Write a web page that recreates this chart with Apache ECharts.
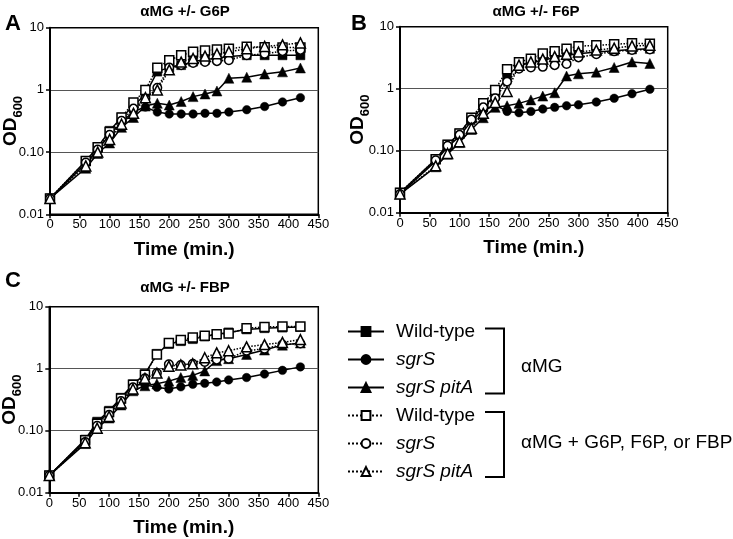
<!DOCTYPE html>
<html><head><meta charset="utf-8">
<script src="https://cdn.jsdelivr.net/npm/echarts@6/dist/echarts.min.js"></script>
<style>html,body{margin:0;padding:0;background:#fff}#c{width:733px;height:539px}</style>
</head><body><div id="c"></div>
<script>
const times = [0,60,80,100,120,140,160,180,200,220,240,260,280,300,330,360,390,420];
const yTicks = ['0.01','0.10','1','10'];
const xTicks = [0,50,100,150,200,250,300,350,400,450];
const panelTitles = ['αMG +/- G6P','αMG +/- F6P','αMG +/- FBP'];
const panelLetters = ['A','B','C'];
const legendLabels = ['Wild-type','sgrS','sgrS pitA','Wild-type','sgrS','sgrS pitA'];
const groupLabels = ['αMG','αMG + G6P, F6P, or FBP'];

// Panel A (G6P)
const A_wt     = [0.018,0.072,0.12,0.22,0.36,0.55,0.85,1.97,2.3,2.5,2.85,3.05,3.25,3.45,3.6,3.6,3.6,3.6];
const A_sgrS   = [0.018,0.065,0.11,0.19,0.30,0.45,0.53,0.44,0.41,0.41,0.41,0.42,0.42,0.44,0.48,0.54,0.64,0.75];
const A_pitA   = [0.018,0.055,0.095,0.14,0.25,0.36,0.55,0.61,0.57,0.65,0.78,0.86,0.96,1.54,1.6,1.8,1.95,2.25];
const A_wtS    = [0.018,0.072,0.12,0.21,0.36,0.63,1.0,2.28,3.0,3.6,4.1,4.3,4.45,4.6,4.95,4.85,4.8,4.8];
const A_sgrSS  = [0.018,0.068,0.11,0.19,0.32,0.50,0.72,1.08,2.3,2.5,2.7,2.8,2.9,3.0,3.6,3.8,4.2,4.4];
const A_pitAS  = [0.018,0.06,0.10,0.16,0.28,0.42,0.75,1.0,2.1,2.8,3.2,3.5,3.8,4.1,4.6,5.0,5.3,5.7];
// Panel B (F6P)
const B_wt     = [0.021,0.073,0.125,0.19,0.34,0.50,0.78,1.6,2.37,2.62,2.86,3.2,3.45,3.65,3.9,4.1,4.3,4.4];
const B_sgrS   = [0.020,0.068,0.115,0.17,0.30,0.45,0.55,0.43,0.41,0.43,0.47,0.50,0.53,0.55,0.61,0.70,0.83,0.98];
const B_pitA   = [0.020,0.055,0.088,0.135,0.22,0.34,0.50,0.53,0.58,0.66,0.76,0.86,1.6,1.74,1.85,2.2,2.7,2.55];
const B_wtS    = [0.021,0.073,0.125,0.19,0.34,0.58,0.95,2.05,2.68,3.05,3.7,4.0,4.4,4.85,5.0,5.2,5.4,5.3];
const B_sgrSS  = [0.020,0.07,0.12,0.18,0.32,0.50,0.70,1.3,2.1,2.2,2.25,2.4,2.5,3.2,3.6,4.0,4.2,4.3];
const B_pitAS  = [0.020,0.057,0.09,0.14,0.23,0.40,0.60,0.9,2.4,2.7,3.0,3.3,3.6,3.9,4.2,4.5,4.9,5.0];
// Panel C (FBP)
const C_wt     = [0.019,0.072,0.14,0.21,0.34,0.56,0.82,1.74,2.5,2.78,3.0,3.3,3.6,3.85,4.3,4.5,4.6,4.7];
const C_sgrS   = [0.019,0.068,0.13,0.20,0.32,0.55,0.55,0.50,0.47,0.51,0.56,0.58,0.61,0.66,0.72,0.82,0.94,1.07];
const C_pitA   = [0.019,0.062,0.11,0.16,0.26,0.44,0.53,0.57,0.63,0.72,0.78,0.92,1.35,1.45,1.7,2.0,2.4,2.6];
const C_wtS    = [0.019,0.07,0.13,0.20,0.33,0.55,0.80,1.7,2.6,2.9,3.2,3.4,3.6,3.7,4.5,4.7,4.8,4.8];
const C_sgrSS  = [0.019,0.066,0.12,0.18,0.30,0.50,0.70,0.85,1.18,1.15,1.2,1.28,1.4,1.45,1.95,2.1,2.45,2.55];
const C_pitAS  = [0.019,0.064,0.11,0.17,0.28,0.47,0.70,0.85,1.1,1.15,1.2,1.5,1.8,1.95,2.25,2.45,2.65,2.95];

const FONT = "'Liberation Sans', Arial, sans-serif";
const panels = [
  {data:[A_wt,A_sgrS,A_pitA,A_wtS,A_sgrSS,A_pitAS], grid:{left:50, top:27.7, width:268.3, height:186.6}},
  {data:[B_wt,B_sgrS,B_pitA,B_wtS,B_sgrSS,B_pitAS], grid:{left:400, top:26.7, width:267.7, height:186}},
  {data:[C_wt,C_sgrS,C_pitA,C_wtS,C_sgrSS,C_pitAS], grid:{left:49.3, top:306.7, width:269, height:186}}
];
const nameGapsY = [25, 28, 25];
const seriesNames = ['WT','sgrS','sgrS pitA','WT +','sgrS +','sgrS pitA +'];
const symbols = ['rect','circle','triangle','rect','circle','triangle'];
const symSizes = [9,8.5,10,9,8.5,10];
const legendMap = {
  'WT':'{n|Wild-type}','sgrS':'{i|sgrS}','sgrS pitA':'{i|sgrS pitA}',
  'WT +':'{n|Wild-type}','sgrS +':'{i|sgrS}','sgrS pitA +':'{i|sgrS pitA}'
};

const grids=[], xAxes=[], yAxes=[], series=[];
panels.forEach((p,pi)=>{
  grids.push(Object.assign({show:true, borderColor:'#000', borderWidth:1.5, backgroundColor:'transparent',
    containLabel:false, outerBoundsMode:'none'}, p.grid));
  xAxes.push({type:'value', gridIndex:pi, min:0, max:450, interval:50,
    name:'Time (min.)', nameLocation:'middle', nameGap:26, nameMoveOverlap:false,
    nameTextStyle:{fontFamily:FONT, fontSize:19, fontWeight:'bold', color:'#000'},
    axisLine:{lineStyle:{color:'#000', width:2}},
    axisTick:{show:true, length:4, lineStyle:{color:'#000', width:1.5}},
    axisLabel:{fontFamily:FONT, fontSize:13, color:'#000', margin:4,
      formatter:v=> xTicks.indexOf(v)>=0 ? String(v) : ''},
    splitLine:{show:false}});
  yAxes.push({type:'log', logBase:10, gridIndex:pi, min:0.01, max:10,
    name:'{a|OD}{b|600}', nameLocation:'middle', nameGap:nameGapsY[pi], nameRotate:90, nameMoveOverlap:false,
    nameTextStyle:{rich:{
      a:{fontFamily:FONT, fontSize:19, fontWeight:'bold', color:'#000', lineHeight:24, verticalAlign:'top'},
      b:{fontFamily:FONT, fontSize:13, fontWeight:'bold', color:'#000', lineHeight:24, verticalAlign:'bottom'}}},
    axisLine:{lineStyle:{color:'#000', width:2}},
    axisTick:{show:true, length:4, lineStyle:{color:'#000', width:1.5}},
    axisLabel:{fontFamily:FONT, fontSize:13, color:'#000', margin:6,
      formatter:v=>{const k=Math.round(Math.log10(v))+2; return yTicks[k]||'';}},
    splitLine:{show:true, showMinLine:false, showMaxLine:false, lineStyle:{color:'#555', width:1.2}}});
  p.data.forEach((arr,si)=>{
    const open = si>=3;
    series.push({type:'line', name:seriesNames[si], xAxisIndex:pi, yAxisIndex:pi,
      data: times.map((t,i)=>[t,arr[i]]),
      symbol:symbols[si], symbolSize:symSizes[si], showSymbol:true,
      lineStyle:{color:'#000', width:1.5, type: open?'dotted':'solid'},
      itemStyle:{color: open?'#fff':'#000', borderColor:'#000', borderWidth: open?1.5:0.5},
      emphasis:{disabled:true}, animation:false, z: open?3:2});
  });
});

const graphics = [];
const titlePos = [[185,12],[536,12],[185,288]];
panelTitles.forEach((t,i)=>graphics.push({type:'text', x:titlePos[i][0], y:titlePos[i][1],
  style:{text:t, x:0, y:0, align:'center', verticalAlign:'middle', font:"bold 15px "+FONT, fill:'#000'}}));
const letterPos = [[13,24],[359,24],[13,281]];
panelLetters.forEach((t,i)=>graphics.push({type:'text', x:letterPos[i][0], y:letterPos[i][1],
  style:{text:t, x:0, y:0, align:'center', verticalAlign:'middle', font:"bold 22px "+FONT, fill:'#000'}}));
graphics.push({type:'polyline', shape:{points:[[485,328.5],[504,328.5],[504,393.5],[485,393.5]]}, style:{stroke:'#000', lineWidth:2, fill:null}});
graphics.push({type:'polyline', shape:{points:[[485,412],[504,412],[504,477],[485,477]]}, style:{stroke:'#000', lineWidth:2, fill:null}});
graphics.push({type:'text', x:521, y:367, style:{text:groupLabels[0], x:0, y:0, verticalAlign:'middle', font:"19px "+FONT, fill:'#000'}});
graphics.push({type:'text', x:521, y:443, style:{text:groupLabels[1], x:0, y:0, verticalAlign:'middle', font:"19px "+FONT, fill:'#000'}});

const chart = echarts.init(document.getElementById('c'), null, {renderer:'canvas'});
chart.setOption({
  animation:false,
  backgroundColor:'#fff',
  grid:grids, xAxis:xAxes, yAxis:yAxes, series:series,
  legend:{orient:'vertical', left:347, top:322, padding:0, itemWidth:36, itemHeight:11, itemGap:9,
    data:seriesNames, selectedMode:false,
    formatter:n=>legendMap[n],
    textStyle:{rich:{
      n:{fontFamily:FONT, fontSize:19, color:'#000', lineHeight:19, padding:[0,0,0,7]},
      i:{fontFamily:FONT, fontSize:19, fontStyle:'italic', color:'#000', lineHeight:19, padding:[0,0,0,7]}}}},
  graphic:graphics
});
</script></body></html>
